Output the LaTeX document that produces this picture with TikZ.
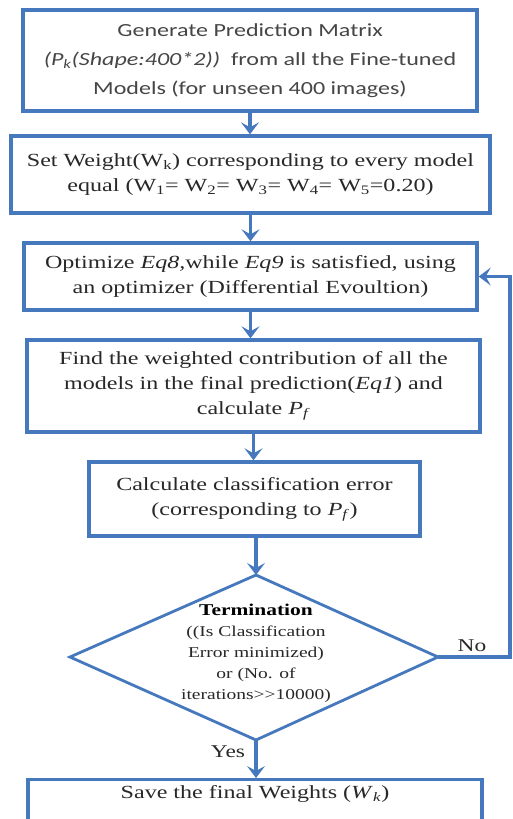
\documentclass[tikz,border=0pt]{standalone}
\usepackage{fontspec}
\setmainfont{Liberation Serif}[FakeStretch=1.3]
\newfontfamily\calfont{Carlito}[FakeStretch=1.3]
\usetikzlibrary{arrows.meta}
\definecolor{fb}{RGB}{70,120,190}
\definecolor{tx}{RGB}{40,40,40}
\definecolor{tx1}{RGB}{70,70,70}
\begin{document}
\begin{tikzpicture}[x=1pt,y=-1pt,
  box/.style={draw=fb, line width=3.4pt, align=center, text=tx, inner sep=0pt},
  serif/.style={font=\fontsize{18.5}{25}\selectfont},
  arr/.style={draw=fb, line width=3.4pt, -{Stealth[length=12pt,width=18pt,inset=5pt]}},
  lbl/.style={text=tx, font=\fontsize{18}{20}\selectfont, inner sep=0pt}]
\useasboundingbox (0,0) rectangle (513,819);
\fill[white] (0,0) rectangle (513,819);
\node[box, text=tx1, minimum width=454pt, minimum height=101pt, font=\calfont\fontsize{18.5}{29}\selectfont] (b1) at (250,60.5)
  {Generate Prediction Matrix\\ \textit{(P\textsubscript{k}(Shape:400*2))}\ \ from all the Fine-tuned\\ Models (for unseen 400 images)};
\node[box, serif, minimum width=479pt, minimum height=77pt] (b2) at (250.5,174.5)
  {Set Weight(W\textsubscript{k}) corresponding to every model\\ equal (W\textsubscript{1}= W\textsubscript{2}= W\textsubscript{3}= W\textsubscript{4}= W\textsubscript{5}=0.20)};
\node[box, serif, minimum width=453pt, minimum height=67pt] (b3) at (250.5,276.5)
  {Optimize \textit{Eq8,}while \textit{Eq9} is satisfied, using\\ an optimizer (Differential Evoultion)};
\node[box, serif, minimum width=453pt, minimum height=92pt] (b4) at (253.5,386)
  {Find the weighted contribution of all the\\ models in the final prediction(\textit{Eq1}) and\\ calculate \textit{P}\textsubscript{\textit{f}}};
\node[box, serif, minimum width=331pt, minimum height=74pt] (b5) at (254.5,499)
  {Calculate classification error\\ (corresponding to \textit{P}\textsubscript{\textit{f}})};
\node[box, serif, anchor=north, minimum width=454pt, inner ysep=6pt] (fin) at (255,778)
  {Save the final Weights (\textit{W}\textsubscript{\textit{k}})\rule[-45pt]{0pt}{45pt}};
% decision
\coordinate (dt) at (256,575);
\coordinate (dr) at (438,657);
\coordinate (db) at (256,740);
\coordinate (dl) at (70,657);
\draw[draw=fb, line width=2.8pt, line join=miter] (dt) -- (dr) -- (db) -- (dl) -- cycle;
\node[align=center, text=tx, inner sep=0pt, font=\fontsize{15}{21}\selectfont] (dec) at (256,653)
  {{\color{black}\fontsize{16.5}{21}\selectfont\textbf{Termination}}\\ ((Is Classification\\ Error minimized)\\ or (No. of\\ iterations>{}>10000)};
% connectors
\draw[arr] (b1.south) -- (b1.south |- b2.north);
\draw[arr] (b2.south) -- (b2.south |- b3.north);
\draw[arr] (b3.south) -- (b3.south |- b4.north);
\draw[arr] (b4.south) -- (b4.south |- b5.north);
\draw[arr] (dt |- b5.south) -- (dt);
\draw[arr] (db) -- (db |- fin.north);
\coordinate (fbk) at (510,657);
\draw[arr] (dr) -- (fbk) |- (b3.east);
\node[lbl] (no) at (472,646) {No};
\node[lbl] (yes) at (228,752) {Yes};
\end{tikzpicture}
\end{document}
